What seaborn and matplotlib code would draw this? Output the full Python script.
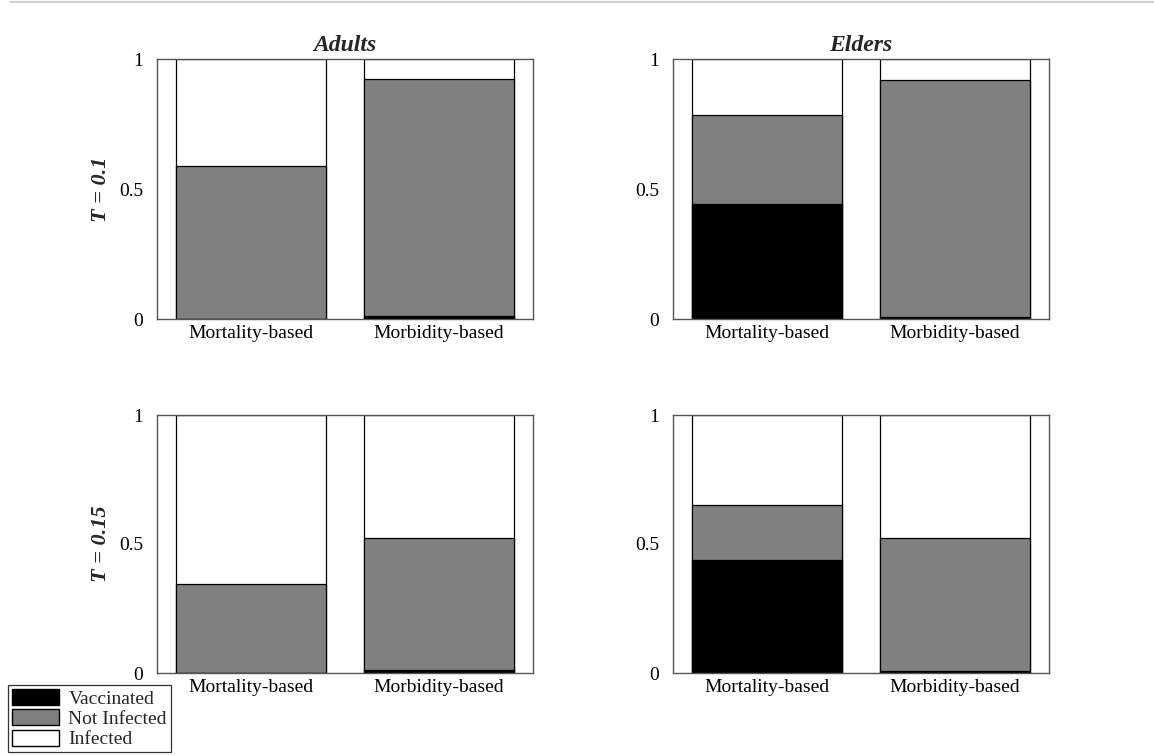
import numpy as np
import pandas as pd
import matplotlib
matplotlib.use("Agg")
import matplotlib.pyplot as plt
import matplotlib.patches as mpatches
from matplotlib.lines import Line2D
import seaborn as sns

sns.set_style("white")
plt.rcParams['font.family'] = ['Liberation Serif', 'DejaVu Serif']

strategies = ["Mortality-based", "Morbidity-based"]
groups = ["Adults", "Elders"]
thresholds = ["T = 0.1", "T = 0.15"]

# fractions per panel: [Mortality-based, Morbidity-based]
vaccinated = {
    ("T = 0.1", "Adults"): [0.0, 0.01],
    ("T = 0.1", "Elders"): [0.442, 0.006],
    ("T = 0.15", "Adults"): [0.0, 0.01],
    ("T = 0.15", "Elders"): [0.438, 0.006],
}
not_infected = {
    ("T = 0.1", "Adults"): [0.588, 0.912],
    ("T = 0.1", "Elders"): [0.343, 0.913],
    ("T = 0.15", "Adults"): [0.345, 0.513],
    ("T = 0.15", "Elders"): [0.213, 0.517],
}
infected = {k: [1 - v - n for v, n in zip(vaccinated[k], not_infected[k])] for k in vaccinated}

col_vacc = "#000000"
col_ni = "#808080"
col_inf = "#ffffff"

fig = plt.figure(figsize=(11.54, 7.56), dpi=100)
W, H = 1154, 756
boxes = {
    ("T = 0.1", "Adults"): (157, 59, 533, 319),
    ("T = 0.1", "Elders"): (673, 59, 1049, 319),
    ("T = 0.15", "Adults"): (157, 415, 533, 673),
    ("T = 0.15", "Elders"): (673, 415, 1049, 673),
}

fig.add_artist(Line2D([10 / W, 1.0], [1 - 1.5 / H, 1 - 1.5 / H], color="#c8c8c8",
                      linewidth=1.2, transform=fig.transFigure))

for (t, g), (x0, y0, x1, y1) in boxes.items():
    ax = fig.add_axes([x0 / W, 1 - y1 / H, (x1 - x0) / W, (y1 - y0) / H])
    v = np.array(vaccinated[(t, g)])
    n = np.array(not_infected[(t, g)])
    i = np.array(infected[(t, g)])
    df = pd.DataFrame({
        "strategy": strategies,
        "total": v + n + i,
        "lower": v + n,
        "vacc": v,
    })
    for col, c in [("total", col_inf), ("lower", col_ni), ("vacc", col_vacc)]:
        sns.barplot(data=df, x="strategy", y=col, color=c, edgecolor="black",
                    linewidth=0.9, width=0.8, saturation=1, ax=ax, order=strategies)
    ax.set_xlim(-0.5, 1.5)
    ax.set_ylim(0, 1)
    ax.set_yticks([0, 0.5, 1])
    ax.set_yticklabels(["0", "0.5", "1"])
    ax.tick_params(axis="both", length=0, labelsize=14, colors="black")
    ax.tick_params(axis="y", pad=10)
    ax.tick_params(axis="x", pad=4)
    ax.set_xlabel("")
    ax.set_ylabel("")
    for sp in ax.spines.values():
        sp.set_visible(True)
        sp.set_color("#555555")
        sp.set_linewidth(1.0)
    if t == "T = 0.1":
        ax.set_title(g, fontsize=17, fontweight="bold", fontstyle="italic", pad=6)
    if g == "Adults":
        ax.set_ylabel(t, fontsize=16, fontweight="bold", fontstyle="italic", labelpad=6)

handles = [
    mpatches.Patch(facecolor=col_vacc, edgecolor="black", label="Vaccinated"),
    mpatches.Patch(facecolor=col_ni, edgecolor="black", label="Not Infected"),
    mpatches.Patch(facecolor=col_inf, edgecolor="black", label="Infected"),
]
leg = fig.legend(handles=handles, loc="lower left", bbox_to_anchor=(0.007, 0.005),
                 frameon=True, fancybox=False, edgecolor="black", fontsize=14,
                 handlelength=2.4, handleheight=0.9, handletextpad=0.5,
                 borderpad=0.2, labelspacing=0.08, borderaxespad=0)
leg.get_frame().set_linewidth(0.9)

fig.savefig("out.png", dpi=100)
